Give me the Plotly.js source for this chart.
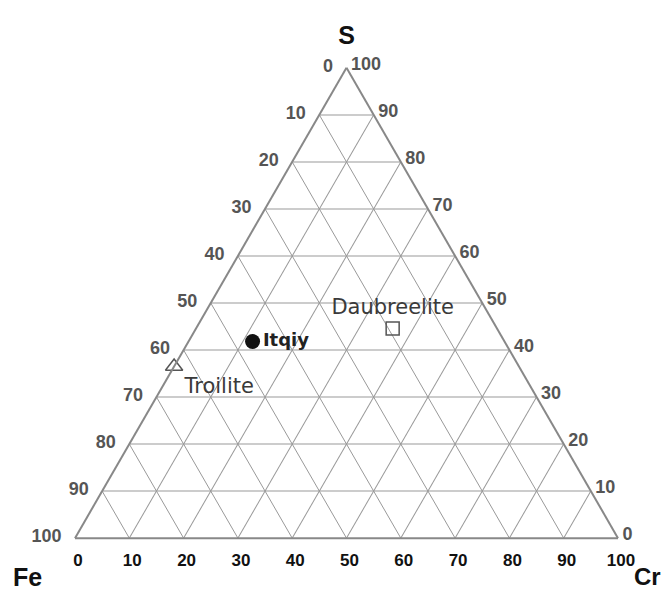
<!DOCTYPE html>
<html>
<head>
<meta charset="utf-8">
<script src="https://cdn.plot.ly/plotly-3.0.1.min.js"></script>
<style>html,body{margin:0;padding:0;background:#fff;}#chart{width:666px;height:593px;}</style>
</head>
<body>
<div id="chart"></div>
<script>
// Compositions (wt%)
var minerals = ["Troilite", "Itqiy", "Daubreelite"];
var sValues  = [36.5, 41.8, 44.6];
var feValues = [63.5, 46.4, 19.2];
var crValues = [0.0, 11.8, 36.2];
var symbols = ["triangle-up-open", "circle", "square-open"];

var cornerLabels = ["S", "Fe", "Cr"];
var tickVals = [0, 10, 20, 30, 40, 50, 60, 70, 80, 90, 100];
var tickRev  = ["100", "90", "80", "70", "60", "50", "40", "30", "20", "10", "0"];

var traces = [
  {type: "scatterternary", mode: "markers+text",
   a: [sValues[0]], b: [feValues[0]], c: [crValues[0]], text: [minerals[0]],
   textposition: "bottom right",
   textfont: {family: "DejaVu Sans", size: 21, color: "#3a3a3a"},
   marker: {symbol: symbols[0], size: 15, color: "#555", line: {width: 1.5, color: "#555"}},
   cliponaxis: false, hoverinfo: "text"},
  {type: "scatterternary", mode: "markers+text",
   a: [sValues[1]], b: [feValues[1]], c: [crValues[1]], text: [minerals[1]],
   textposition: "middle right",
   textfont: {family: "DejaVu Sans", size: 18, color: "#222", weight: "bold"},
   marker: {symbol: symbols[1], size: 15, color: "#111"},
   cliponaxis: false, hoverinfo: "text"},
  {type: "scatterternary", mode: "markers+text",
   a: [sValues[2]], b: [feValues[2]], c: [crValues[2]], text: [minerals[2]],
   textposition: "top center",
   textfont: {family: "DejaVu Sans", size: 21, color: "#3a3a3a"},
   marker: {symbol: symbols[2], size: 13, color: "#555", line: {width: 1.5, color: "#555"}},
   cliponaxis: false, hoverinfo: "text"}
];

var titleFont = {family: "Liberation Sans, Arial", size: 25, color: "#111", weight: "bold"};
var cornerFont = {family: "Liberation Sans, Arial", size: 24, color: "#111", weight: "bold"};

function axis(title, ticktext, tickcolor, ticklen, ticksize) {
  return {
    title: {text: title, font: titleFont},
    min: 0,
    tickmode: "array", tickvals: tickVals, ticktext: ticktext,
    tickfont: {family: "Liberation Sans, Arial", size: ticksize, color: tickcolor, weight: "bold"},
    ticks: "outside", ticklen: ticklen, tickcolor: "rgba(0,0,0,0)", tickwidth: 1,
    showgrid: true, gridcolor: "#999", gridwidth: 1,
    showline: true, linecolor: "#888", linewidth: 2
  };
}

var layout = {
  width: 666, height: 593,
  margin: {l: 75, r: 48, t: 66, b: 53},
  paper_bgcolor: "#fff",
  showlegend: false,
  ternary: {
    sum: 100,
    bgcolor: "#fff",
    aaxis: axis(cornerLabels[0], tickRev, "#555", 10, 18),
    baxis: axis("", tickRev, "#111", 6, 17),
    caxis: axis("", tickRev, "#555", 2, 18)
  },
  annotations: [
    {text: cornerLabels[1], xref: "paper", yref: "paper", x: -0.087, y: -0.078,
     xanchor: "center", yanchor: "middle", showarrow: false, font: titleFont},
    {text: cornerLabels[2], xref: "paper", yref: "paper", x: 1.055, y: -0.078,
     xanchor: "center", yanchor: "middle", showarrow: false, font: cornerFont}
  ]
};

Plotly.newPlot("chart", traces, layout, {displayModeBar: false, staticPlot: true});
</script>
</body>
</html>
